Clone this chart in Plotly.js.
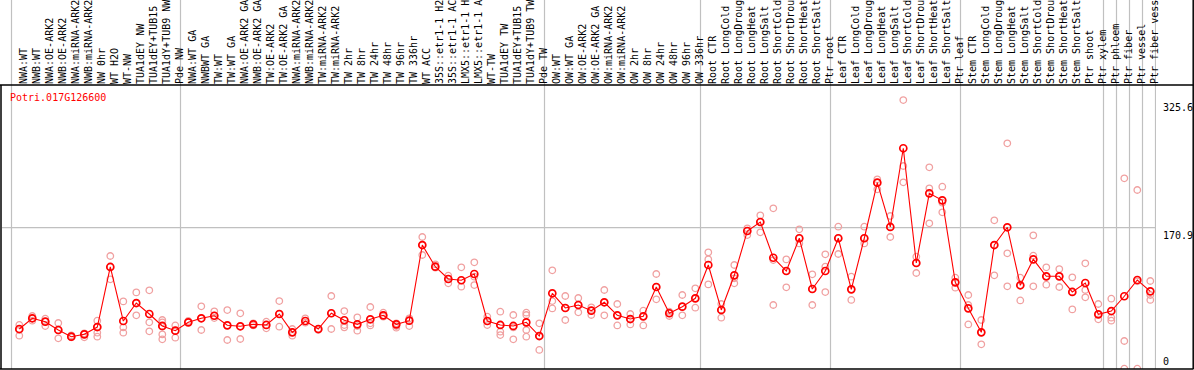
<!DOCTYPE html>
<html>
<head>
<meta charset="utf-8">
<script src="https://cdn.plot.ly/plotly-3.0.1.min.js"></script>
<style>html,body{margin:0;padding:0;background:#fff;}#chart{width:1194px;height:370px;}</style>
</head>
<body>
<div id="chart"></div>
<script>
const geneName = "Potri.017G126600";

const categories = [
"NWA:WT","NWB:WT","NWA:OE-ARK2","NWB:OE-ARK2","NWA:miRNA-ARK2","NWB:miRNA-ARK2","NW 0hr","WT H2O","WT-NW","TUA1dEY NW","TUA1dEY+TUB15","TUA1dY+TUB9 NW","Pde NW",
"NWA:WT GA","NWBWT GA","TW:WT","TW:WT GA","NWA:OE-ARK2 GA","NWB:OE-ARK2 GA","TW:OE-ARK2","TW:OE-ARK2 GA","NWA:miRNA-ARK2","NWB:miRNA-ARK2","TW:miRNA-ARK2","TW:miRNA-ARK2","TW 2hr","TW 8hr","TW 24hr","TW 48hr","TW 96hr","TW 336hr","WT ACC","35S::etr1-1 H2O","35S::etr1-1 ACC","LMX5::etr1-1 H2O","LMX5::etr1-1 ACC","WT-TW","TUA1dEY TW","TUA1dEY+TUB15","TUA1dY+TUB9 TW","Pde TW",
"OW:WT","OW:WT GA","OW:OE-ARK2","OW:OE-ARK2 GA","OW:miRNA-ARK2","OW:miRNA-ARK2","OW 2hr","OW 8hr","OW 24hr","OW 48hr","OW 96hr","OW 336hr",
"Root CTR","Root LongCold","Root LongDrought","Root LongHeat","Root LongSalt","Root ShortCold","Root ShortDrought","Root ShortHeat","Root ShortSalt","Ptr root",
"Leaf CTR","Leaf LongCold","Leaf LongDrought","Leaf LongHeat","Leaf LongSalt","Leaf ShortCold","Leaf ShortDrought","Leaf ShortHeat","Leaf ShortSalt","Ptr leaf",
"Stem CTR","Stem LongCold","Stem LongDrought","Stem LongHeat","Stem LongSalt","Stem ShortCold","Stem ShortDrought","Stem ShortHeat","Stem ShortSalt","Ptr shoot","Ptr xylem",
"Ptr phloem","Ptr fiber","Ptr vessel","Ptr fiber vessel"
];

const groupSizes = [13, 28, 12, 10, 10, 11, 1, 1, 1, 1];

const meanValues = [
48.1,61.1,57.0,46.9,38.8,41.7,50.5,123.3,57.8,79.6,66.3,51.8,46.1,
56.2,61.1,64.2,52.6,51.4,53.8,53.0,66.3,44.1,57.8,48.1,67.2,58.7,53.8,59.9,64.7,53.8,58.2,149.9,123.6,108.7,107.2,114.8,57.8,53.0,51.8,56.2,39.6,
91.4,73.6,77.2,70.3,80.5,64.7,60.2,63.5,99.0,67.2,75.2,85.3,
125.7,71.2,113.2,166.9,177.8,134.5,118.4,158.1,96.6,118.4,
158.1,96.2,158.1,225.5,171.8,267.2,128.1,212.6,204.1,104.7,
73.2,44.1,149.9,171.4,101.1,132.6,112.0,112.0,93.0,103.9,65.9,
69.9,87.8,107.5,93.8
];

const replicateValues = [
[53.0,46.9,40.0],[63.9,61.0,58.2],[60.6,57.0,51.7],[55.4,46.9,36.8],[40.4,38.8,38.0],[42.9,41.6,38.0],[58.2,50.9,43.7,38.8],[136.6,123.3,108.3],[81.6,50.1,43.7],[92.5,79.6,64.7],[95.0,56.2,45.3],[59.0,56.2,50.9,41.6,35.6],[52.5,46.1,37.6],
[57.8,56.2],[75.6,61.0,46.9],[69.5,64.2,61.4],[71.1,52.5,34.8],[67.1,51.3,36.0],[55.0,52.5],[57.0,48.9],[82.0,66.3,50.9],[48.1,44.1,40.0],[61.0,55.8],[48.1,46.9],[88.1,67.1,48.1],[69.9,52.9,50.1],[62.2,51.7,46.1],[74.8,55.0,52.5],[67.9,64.7,63.0],[55.0,51.7,49.7],[61.0,58.2,51.7],[159.6,149.9,137.8],[126.5,123.7,122.4],[112.8,108.7,103.5],[122.9,107.1,99.4],[128.9,111.5,101.4],[63.0,57.8,52.9],[69.1,52.9,44.9,40.8],[65.1,50.1,35.6],[67.9,65.1,46.9,38.8],[55.0,40.0,22.7],
[119.2,82.0,73.1],[88.1,73.6,59.0],[85.7,77.2,68.3],[74.4,70.3,65.1],[95.4,80.5,64.7],[78.4,64.7,52.5],[66.3,60.2,53.7],[70.3,63.5,52.5],[114.8,99.0,84.1],[69.1,67.2,63.9],[89.3,75.2,64.7],[97.4,85.3,74.0],
[141.0,132.5,102.2],[78.4,71.2,61.8],[125.7,109.5,103.5],[170.1,166.9,162.0],[185.9,177.8,165.3],[194.4,131.7,77.2],[132.5,118.4,98.6],[168.9,158.1,151.9],[114.4,96.6,77.2],[138.6,123.7,92.9],
[172.1,158.1,139.0],[111.5,96.2,83.3],[172.1,158.1,151.9],[229.5,225.5,217.4],[185.1,171.8,159.6],[325.6,245.7,225.9],[135.8,128.1,116.0],[244.1,218.6,176.2],[220.6,201.2,189.5],[110.3,104.7,98.2],
[89.3,77.2,53.7],[59.0,44.1,29.5],[179.8,149.9,113.2],[273.2,139.8,99.8],[110.3,101.1,82.8],[161.6,137.0,99.8],[122.9,112.0,101.8],[120.8,112.0,99.0],[110.7,93.0,71.9],[127.7,95.4,86.5],[78.4,65.9,59.8],
[84.9,61.8,58.2],[230.7,33.6,0],[216.6,105.9,0],[106.3,89.3,83.3]
];

const yTickVals = [0, 170.9, 325.6];
const yTickText = ["0", "170.9", "325.6"];
const gridValue = 170.9;

// ---- build traces ----
const idx = categories.map((c, i) => i);
const repX = [], repY = [];
replicateValues.forEach((arr, i) => arr.forEach(v => { repX.push(i); repY.push(v); }));

const mono = "DejaVu Sans Mono, monospace";

const traces = [
  {
    type: "scatter", mode: "markers", x: repX, y: repY, hoverinfo: "skip",
    marker: { symbol: "circle-open", size: 6.5, color: "#f0a0a0", line: { width: 1.3, color: "#f0a0a0" } },
    showlegend: false
  },
  {
    type: "scatter", mode: "lines+markers", x: idx, y: meanValues,
    line: { color: "#ff0000", width: 1.1 },
    marker: { symbol: "circle-open", size: 7, color: "#ff0000", line: { width: 1.7, color: "#ff0000" } },
    showlegend: false
  }
];

// ---- geometry ----
const W = 1194, H = 370;
const mL = 2, mR = 38, mT = 85, mB = 1;
const plotW = W - mL - mR, plotH = H - mT - mB;
const px2paperX = px => (px - mL) / plotW;
const px2paperY = py => (H - mB - py) / plotH;

const shapes = [];
let b = 0;
const bounds = [0];
groupSizes.forEach(s => { b += s; bounds.push(b); });
bounds.forEach(k => {
  shapes.push({ type: "line", xref: "x", yref: "paper", x0: k - 0.6, x1: k - 0.6, y0: 0, y1: px2paperY(0),
    line: { color: "#c0c0c0", width: 1.2 }, layer: "below" });
});
shapes.push({ type: "line", xref: "paper", yref: "y", x0: 0, x1: 1, y0: gridValue, y1: gridValue,
  line: { color: "#c0c0c0", width: 1.2 }, layer: "below" });
const blk = { color: "#000", width: 1.5 };
shapes.push({ type: "line", xref: "paper", yref: "paper", x0: px2paperX(0), x1: px2paperX(1193.5), y0: 1, y1: 1, line: blk });
shapes.push({ type: "line", xref: "paper", yref: "paper", x0: px2paperX(0), x1: px2paperX(1193.5), y0: px2paperY(369), y1: px2paperY(369), line: blk });
shapes.push({ type: "line", xref: "paper", yref: "paper", x0: px2paperX(1), x1: px2paperX(1), y0: px2paperY(369), y1: 1, line: blk });
shapes.push({ type: "line", xref: "paper", yref: "paper", x0: px2paperX(1193.2), x1: px2paperX(1193.2), y0: px2paperY(369), y1: px2paperY(0), line: blk });

const annotations = [
  { text: geneName, xref: "paper", yref: "paper", x: 0, y: 1, xanchor: "left", yanchor: "top",
    xshift: 6, yshift: -5, showarrow: false, font: { family: mono, size: 10, color: "#ff0000" } }
];
yTickVals.forEach((v, i) => {
  annotations.push({ text: yTickText[i], xref: "paper", yref: "y", x: 1, y: v,
    xanchor: "left", yanchor: v === 0 ? "bottom" : "top", xshift: 5,
    showarrow: false, font: { family: mono, size: 10, color: "#000" } });
});

const xr0 = (mL - 19.3) / 13, xr1 = (mL + plotW - 19.3) / 13;
const labelShift = 4 / 13;
const pxPerUnit = (368.7 - 227.7) / 170.9;
const yr0 = -((H - mB) - 368.7) / pxPerUnit;
const yr1 = (368.7 - mT) / pxPerUnit;

const layout = {
  width: W, height: H,
  margin: { l: mL, r: mR, t: mT, b: mB, pad: 0 },
  paper_bgcolor: "#fff", plot_bgcolor: "#fff",
  showlegend: false,
  xaxis: {
    range: [xr0, xr1], showticklabels: false, ticks: "", showgrid: false, zeroline: false, showline: false,
    automargin: false, fixedrange: true
  },
  xaxis2: {
    overlaying: "x", anchor: "y", range: [xr0 - labelShift, xr1 - labelShift], side: "top",
    tickmode: "array", tickvals: idx, ticktext: categories,
    tickangle: -90, ticks: "", showgrid: false, zeroline: false, showline: false,
    tickfont: { family: mono, size: 10, color: "#000" }, automargin: false, fixedrange: true
  },
  yaxis: {
    range: [yr0, yr1], showticklabels: false, ticks: "", showgrid: false, zeroline: false, showline: false,
    automargin: false, fixedrange: true
  },
  shapes: shapes,
  annotations: annotations,
  hovermode: false
};

// invisible trace so the label axis is drawn
traces.push({ type: "scatter", mode: "markers", x: [idx[0]], y: [meanValues[0]], xaxis: "x2", yaxis: "y",
  marker: { opacity: 0 }, hoverinfo: "skip", showlegend: false });

Plotly.newPlot("chart", traces, layout, { staticPlot: true, displayModeBar: false });
</script>
</body>
</html>
